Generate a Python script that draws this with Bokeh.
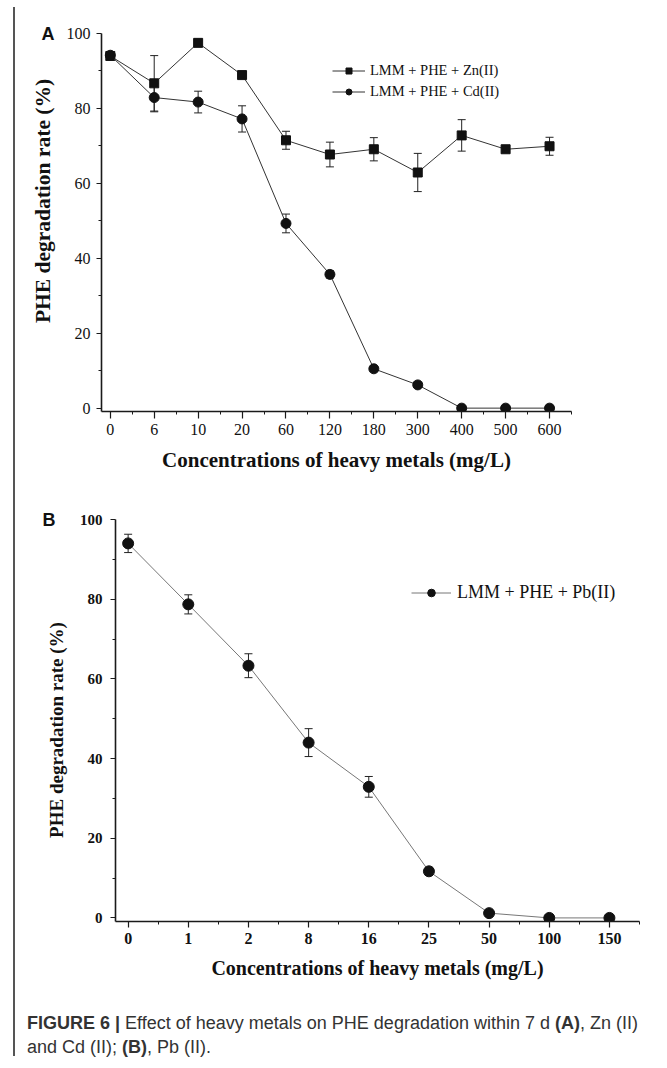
from bokeh.plotting import figure
from bokeh.models import (Range1d, FixedTicker, Whisker, TeeHead, ColumnDataSource,
                          Legend, LegendItem, LinearAxis, Div, Spacer)
from bokeh.layouts import column, row
from bokeh.embed import file_html
from bokeh.resources import INLINE

# ---------------- data ----------------
conc_A = ["0", "6", "10", "20", "60", "120", "180", "300", "400", "500", "600"]
zn_rate = [94.0, 86.7, 97.5, 88.9, 71.5, 67.7, 69.1, 62.9, 72.8, 69.1, 69.9]
zn_err = [0.5, 7.4, 0.5, 0.5, 2.4, 3.3, 3.1, 5.1, 4.2, 0.5, 2.4]
cd_rate = [94.2, 82.9, 81.7, 77.2, 49.3, 35.7, 10.5, 6.2, 0.0, 0.0, 0.0]
cd_err = [0.5, 3.8, 2.9, 3.5, 2.5, 1.0, 0.8, 0.6, 0.0, 0.0, 0.0]

conc_B = ["0", "1", "2", "8", "16", "25", "50", "100", "150"]
pb_rate = [94.0, 78.7, 63.3, 44.0, 32.9, 11.7, 1.2, 0.0, 0.0]
pb_err = [2.3, 2.4, 3.0, 3.5, 2.6, 1.0, 0.3, 0.0, 0.0]

y_ticks = [0, 20, 40, 60, 80, 100]
y_minor = [10, 30, 50, 70, 90]

SERIF = "Liberation Serif"
SANS = "Liberation Sans"
X_TITLE = "Concentrations of heavy metals (mg/L)"
Y_TITLE = "PHE degradation rate (%)"
NB = "\u00a0"


def style_axes(p, labels, tick_size, tick_style, xt_out, yt_out, title_sizes):
    n = len(labels)
    p.xaxis.ticker = FixedTicker(ticks=list(range(n)),
                                 minor_ticks=[i + 0.5 for i in range(-1, n)])
    p.xaxis.major_label_overrides = {i: lab for i, lab in enumerate(labels)}
    p.yaxis.ticker = FixedTicker(ticks=y_ticks, minor_ticks=y_minor)
    for ax in (p.xaxis[0], p.yaxis[0]):
        ax.axis_line_width = 1.6
        ax.axis_line_color = "#1a1a1a"
        ax.major_tick_line_color = "#1a1a1a"
        ax.minor_tick_line_color = "#1a1a1a"
        ax.major_tick_line_width = 1.2
        ax.minor_tick_line_width = 1.0
        ax.major_tick_in = 0
        ax.minor_tick_in = 0
        ax.major_label_text_font = SERIF
        ax.major_label_text_font_style = tick_style
        ax.major_label_text_color = "#111111"
        ax.axis_label_text_font = SERIF
        ax.axis_label_text_font_style = "bold"
        ax.axis_label_text_color = "#111111"
    p.xaxis.axis_label_text_font_size = title_sizes[0]
    p.yaxis.axis_label_text_font_size = title_sizes[1]
    p.xaxis.major_tick_out = xt_out
    p.xaxis.minor_tick_out = 3
    p.yaxis.major_tick_out = yt_out
    p.yaxis.minor_tick_out = 3
    p.xaxis.major_label_text_font_size = tick_size[0]
    p.yaxis.major_label_text_font_size = tick_size[1]
    p.xgrid.visible = False
    p.ygrid.visible = False
    p.outline_line_color = None


def panel_letter(p, letter, standoff):
    # the panel letter is drawn as the only tick label of an extra outer axis
    ax = LinearAxis(ticker=FixedTicker(ticks=[100]),
                    major_label_overrides={100: letter},
                    axis_line_color=None, major_tick_line_color=None,
                    minor_tick_line_color=None, major_tick_out=0,
                    major_tick_in=0, major_label_standoff=standoff,
                    major_label_text_font=SANS,
                    major_label_text_font_style="bold",
                    major_label_text_font_size="18px",
                    major_label_text_color="#111111")
    p.add_layout(ax, "left")


def whiskers(p, xs, vals, errs, size=8):
    src = ColumnDataSource(dict(x=xs,
                                upper=[v + e for v, e in zip(vals, errs)],
                                lower=[v - e for v, e in zip(vals, errs)]))
    w = Whisker(source=src, base="x", upper="upper", lower="lower",
                line_color="#222222", line_width=1,
                upper_head=TeeHead(size=size, line_color="#222222", line_width=1),
                lower_head=TeeHead(size=size, line_color="#222222", line_width=1))
    p.add_layout(w)


# ---------------- panel A ----------------
pA = figure(width=636, height=471, output_backend="svg", toolbar_location=None,
            x_range=Range1d(-0.2, 10.5), y_range=Range1d(-0.9, 100),
            min_border_left=86, min_border_right=80, min_border_top=24,
            min_border_bottom=69, background_fill_color="white",
            border_fill_color="white")
style_axes(pA, conc_A, ("16px", "16px"), "normal", 7, 5, ("21px", "21.5px"))
pA.xaxis.axis_label = X_TITLE
pA.yaxis.axis_label = NB * 8 + Y_TITLE
pA.xaxis.major_label_standoff = 5
pA.xaxis.axis_label_standoff = 10
pA.yaxis.major_label_standoff = 6
pA.yaxis.axis_label_standoff = 9
panel_letter(pA, "A", -27)

xa = list(range(len(conc_A)))
whiskers(pA, xa, zn_rate, zn_err)
whiskers(pA, xa, cd_rate, cd_err)
lz = pA.line(xa, zn_rate, line_color="#333333", line_width=1)
sz = pA.scatter(xa, zn_rate, marker="square", size=9, fill_color="#111111",
                line_color="#111111")
lc = pA.line(xa, cd_rate, line_color="#333333", line_width=1)
sc = pA.scatter(xa, cd_rate, marker="circle", size=10, fill_color="#111111",
                line_color="#111111")

legA = Legend(items=[LegendItem(label="LMM + PHE + Zn(II)", renderers=[lz, sz]),
                     LegendItem(label="LMM + PHE + Cd(II)", renderers=[lc, sc])],
              location=(231, 311), margin=0, padding=0, spacing=4,
              glyph_width=33, glyph_height=15, label_height=15,
              label_standoff=5, border_line_color=None,
              background_fill_alpha=0, label_text_font=SERIF,
              label_text_font_size="14.5px", label_text_color="#111111")
pA.add_layout(legA)

# ---------------- panel B ----------------
pB = figure(width=634, height=516, output_backend="svg", toolbar_location=None,
            x_range=Range1d(-0.21, 8.5), y_range=Range1d(-0.9, 100),
            min_border_left=99, min_border_right=11, min_border_top=39,
            min_border_bottom=75, background_fill_color="white",
            border_fill_color="white")
style_axes(pB, conc_B, ("16px", "15px"), "bold", 6, 5, ("20px", "19px"))
pB.xaxis.axis_label = X_TITLE
pB.yaxis.axis_label = Y_TITLE + NB * 4
pB.xaxis.major_label_standoff = 5
pB.xaxis.axis_label_standoff = 10
pB.yaxis.major_label_standoff = 8
pB.yaxis.axis_label_standoff = 10
panel_letter(pB, "B", -13)

xb = list(range(len(conc_B)))
whiskers(pB, xb, pb_rate, pb_err)
lp = pB.line(xb, pb_rate, line_color="#777777", line_width=1)
sp = pB.scatter(xb, pb_rate, marker="circle", size=11, fill_color="#111111",
                line_color="#111111")
legB = Legend(items=[LegendItem(label="LMM + PHE + Pb(II)", renderers=[lp, sp])],
              location=(296, 318), margin=0, padding=0, spacing=0,
              glyph_width=40, glyph_height=19, label_height=19,
              label_standoff=6, border_line_color=None,
              background_fill_alpha=0, label_text_font=SERIF,
              label_text_font_size="18px", label_text_color="#111111")
pB.add_layout(legB)

# ---------------- caption ----------------
caption = Div(
    text=('<b>FIGURE 6 |</b> Effect of heavy metals on PHE degradation within 7 d '
          '<b>(A)</b>, Zn (II)<br>and Cd (II); <b>(B)</b>, Pb (II).'),
    width=636, height=60, margin=0,
    styles={"font-family": "'Liberation Sans', Arial, sans-serif",
            "font-size": "18px", "line-height": "24px", "color": "#333333",
            "padding-top": "15px", "padding-left": "12px",
            "white-space": "nowrap"})

# thin dark strip forming the top edge of the figure frame
top_rule = figure(width=644, height=2, output_backend="svg",
                  toolbar_location=None, x_axis_type=None, y_axis_type=None,
                  min_border=0, background_fill_color="#444444",
                  border_fill_color="#444444", outline_line_color=None)
top_rule.grid.visible = False

layout = column(top_rule, row(pA), row(Spacer(width=1), pB, Spacer(width=1)),
                caption, margin=(7, 0, 0, 13), spacing=0,
                styles={"border-left": "2px solid #555555"})

open("out.html", "w").write(file_html(layout, INLINE))
